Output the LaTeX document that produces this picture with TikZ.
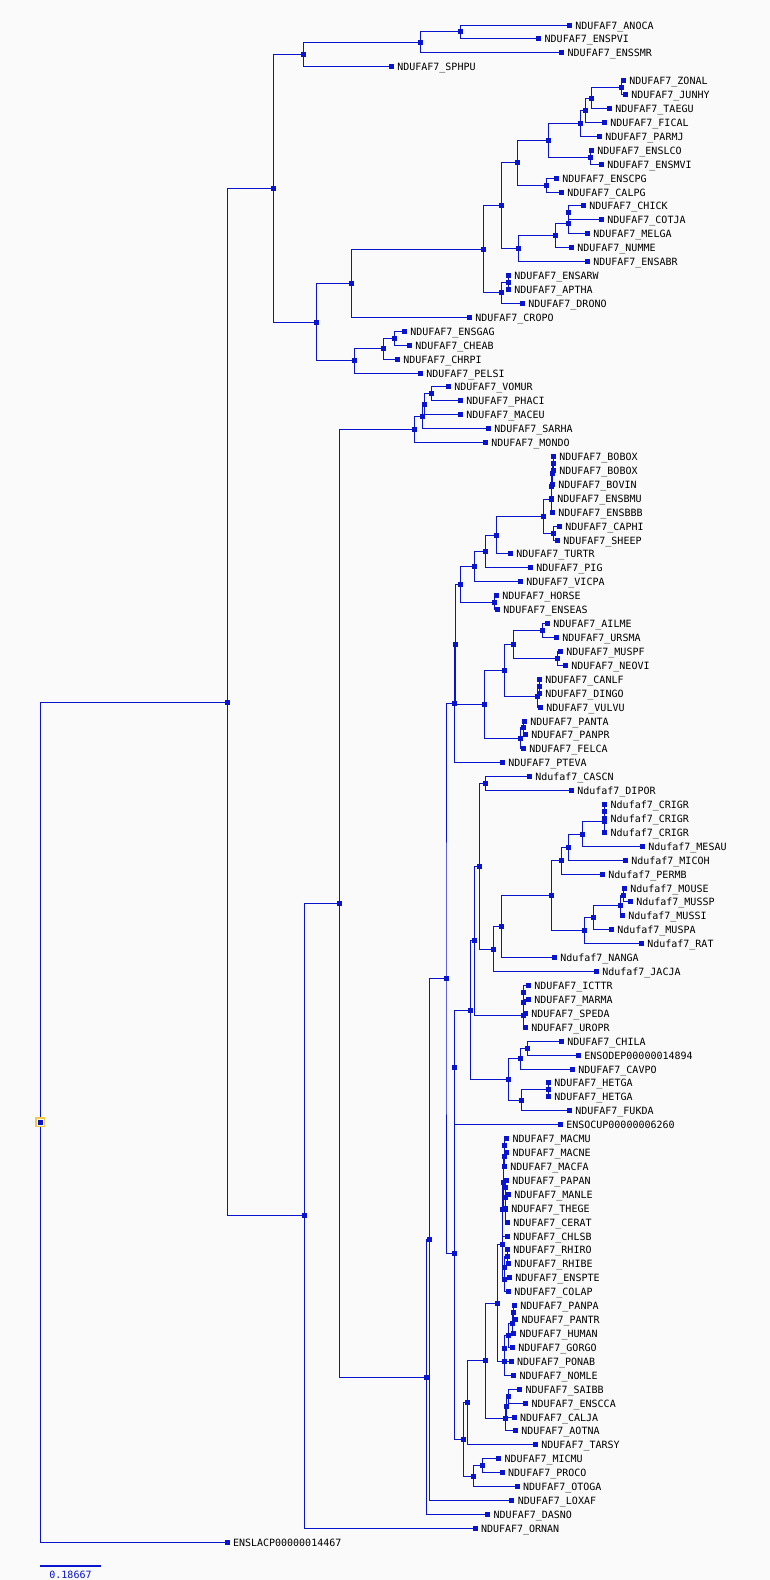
\documentclass[tikz,border=0pt]{standalone}
\usepackage{fontspec}
\newfontfamily\labfont{DejaVu Sans Mono}
\usetikzlibrary{calc}
\definecolor{treeblue}{RGB}{8,20,205}
\definecolor{bgc}{RGB}{250,250,250}
\definecolor{rootyel}{RGB}{242,202,72}
\def\pU{NDUFAF7\_}
\def\pL{Ndufaf7\_}
\tikzset{
  branch/.style={draw=treeblue, line width=1pt},
  nbox/.style={fill=treeblue, inner sep=0pt, minimum size=5pt, draw=none},
  lab/.style={font=\labfont\fontsize{10}{12}\selectfont, text=black, inner sep=0pt, anchor=base west},
}
\newcommand{\leaf}[4]{%
  \coordinate (#1) at (#3,{25+(#2-1)*13.92});
  \node[lab] (#1t) at ($(#1)+(5.8,4.0)$) {#4};
}
\newcommand{\inode}[4]{%
  \path let \p1=(#3), \p2=(#4) in coordinate (#1) at (#2pt,{0.5*\y1+0.5*\y2});
  \draw[branch] (#3) -| (#1) |- (#4);
}
\begin{document}
\begin{tikzpicture}[x=1pt,y=-1pt]
\fill[bgc] (0,0) rectangle (770,1580);
\useasboundingbox (0,0) rectangle (770,1580);
% leaves
\leaf{l1}{1}{569.3}{\pU ANOCA}
\leaf{l2}{2}{538.7}{\pU ENSPVI}
\leaf{l3}{3}{561.7}{\pU ENSSMR}
\leaf{l4}{4}{391.3}{\pU SPHPU}
\leaf{l5}{5}{623.3}{\pU ZONAL}
\leaf{l6}{6}{625.3}{\pU JUNHY}
\leaf{l7}{7}{609.3}{\pU TAEGU}
\leaf{l8}{8}{604.3}{\pU FICAL}
\leaf{l9}{9}{599.3}{\pU PARMJ}
\leaf{l10}{10}{591.3}{\pU ENSLCO}
\leaf{l11}{11}{601.3}{\pU ENSMVI}
\leaf{l12}{12}{556.3}{\pU ENSCPG}
\leaf{l13}{13}{561.3}{\pU CALPG}
\leaf{l14}{14}{583.3}{\pU CHICK}
\leaf{l15}{15}{601.3}{\pU COTJA}
\leaf{l16}{16}{587.3}{\pU MELGA}
\leaf{l17}{17}{571.3}{\pU NUMME}
\leaf{l18}{18}{587.3}{\pU ENSABR}
\leaf{l19}{19}{508.3}{\pU ENSARW}
\leaf{l20}{20}{508.3}{\pU APTHA}
\leaf{l21}{21}{522.3}{\pU DRONO}
\leaf{l22}{22}{469.3}{\pU CROPO}
\leaf{l23}{23}{404.3}{\pU ENSGAG}
\leaf{l24}{24}{409.3}{\pU CHEAB}
\leaf{l25}{25}{397.3}{\pU CHRPI}
\leaf{l26}{26}{420.3}{\pU PELSI}
\leaf{l27}{27}{448.3}{\pU VOMUR}
\leaf{l28}{28}{460.3}{\pU PHACI}
\leaf{l29}{29}{460.3}{\pU MACEU}
\leaf{l30}{30}{488.3}{\pU SARHA}
\leaf{l31}{31}{485.3}{\pU MONDO}
\leaf{l32}{32}{553.3}{\pU BOBOX}
\leaf{l33}{33}{553.3}{\pU BOBOX}
\leaf{l34}{34}{552.3}{\pU BOVIN}
\leaf{l35}{35}{551.3}{\pU ENSBMU}
\leaf{l36}{36}{552.3}{\pU ENSBBB}
\leaf{l37}{37}{559.3}{\pU CAPHI}
\leaf{l38}{38}{557.3}{\pU SHEEP}
\leaf{l39}{39}{510.3}{\pU TURTR}
\leaf{l40}{40}{530.3}{\pU PIG}
\leaf{l41}{41}{520.3}{\pU VICPA}
\leaf{l42}{42}{496.3}{\pU HORSE}
\leaf{l43}{43}{497.3}{\pU ENSEAS}
\leaf{l44}{44}{547.3}{\pU AILME}
\leaf{l45}{45}{556.3}{\pU URSMA}
\leaf{l46}{46}{560.3}{\pU MUSPF}
\leaf{l47}{47}{565.3}{\pU NEOVI}
\leaf{l48}{48}{539.3}{\pU CANLF}
\leaf{l49}{49}{539.3}{\pU DINGO}
\leaf{l50}{50}{540.3}{\pU VULVU}
\leaf{l51}{51}{524.3}{\pU PANTA}
\leaf{l52}{52}{525.3}{\pU PANPR}
\leaf{l53}{53}{523.3}{\pU FELCA}
\leaf{l54}{54}{502.3}{\pU PTEVA}
\leaf{l55}{55}{529.3}{\pL CASCN}
\leaf{l56}{56}{571.3}{\pL DIPOR}
\leaf{l57}{57}{604.7}{\pL CRIGR}
\leaf{l58}{58}{604.7}{\pL CRIGR}
\leaf{l59}{59}{604.7}{\pL CRIGR}
\leaf{l60}{60}{642.3}{\pL MESAU}
\leaf{l61}{61}{625.3}{\pL MICOH}
\leaf{l62}{62}{602.3}{\pL PERMB}
\leaf{l63}{63}{624.3}{\pL MOUSE}
\leaf{l64}{64}{630.3}{\pL MUSSP}
\leaf{l65}{65}{622.3}{\pL MUSSI}
\leaf{l66}{66}{611.3}{\pL MUSPA}
\leaf{l67}{67}{641.3}{\pL RAT}
\leaf{l68}{68}{554.3}{\pL NANGA}
\leaf{l69}{69}{596.3}{\pL JACJA}
\leaf{l70}{70}{528.3}{\pU ICTTR}
\leaf{l71}{71}{528.3}{\pU MARMA}
\leaf{l72}{72}{525.3}{\pU SPEDA}
\leaf{l73}{73}{525.3}{\pU UROPR}
\leaf{l74}{74}{561.3}{\pU CHILA}
\leaf{l75}{75}{578.3}{ENSODEP00000014894}
\leaf{l76}{76}{572.3}{\pU CAVPO}
\leaf{l77}{77}{548.3}{\pU HETGA}
\leaf{l78}{78}{548.3}{\pU HETGA}
\leaf{l79}{79}{569.3}{\pU FUKDA}
\leaf{l80}{80}{560.3}{ENSOCUP00000006260}
\leaf{l81}{81}{506.5}{\pU MACMU}
\leaf{l82}{82}{506.5}{\pU MACNE}
\leaf{l83}{83}{504.3}{\pU MACFA}
\leaf{l84}{84}{506.3}{\pU PAPAN}
\leaf{l85}{85}{508.3}{\pU MANLE}
\leaf{l86}{86}{505.3}{\pU THEGE}
\leaf{l87}{87}{507.3}{\pU CERAT}
\leaf{l88}{88}{507.3}{\pU CHLSB}
\leaf{l89}{89}{507.3}{\pU RHIRO}
\leaf{l90}{90}{508.3}{\pU RHIBE}
\leaf{l91}{91}{509.3}{\pU ENSPTE}
\leaf{l92}{92}{508.3}{\pU COLAP}
\leaf{l93}{93}{514.3}{\pU PANPA}
\leaf{l94}{94}{515.5}{\pU PANTR}
\leaf{l95}{95}{513.5}{\pU HUMAN}
\leaf{l96}{96}{512.3}{\pU GORGO}
\leaf{l97}{97}{511.0}{\pU PONAB}
\leaf{l98}{98}{513.5}{\pU NOMLE}
\leaf{l99}{99}{519.5}{\pU SAIBB}
\leaf{l100}{100}{525.5}{\pU ENSCCA}
\leaf{l101}{101}{514.0}{\pU CALJA}
\leaf{l102}{102}{515.3}{\pU AOTNA}
\leaf{l103}{103}{535.4}{\pU TARSY}
\leaf{l104}{104}{498.5}{\pU MICMU}
\leaf{l105}{105}{502.2}{\pU PROCO}
\leaf{l106}{106}{517.2}{\pU OTOGA}
\leaf{l107}{107}{511.8}{\pU LOXAF}
\leaf{l108}{108}{487.7}{\pU DASNO}
\leaf{l109}{109}{475.0}{\pU ORNAN}
\leaf{l110}{110}{227.0}{ENSLACP00000014467}
% internal nodes
\inode{n1}{460.3}{l1}{l2}
\inode{n2}{420.3}{n1}{l3}
\inode{n3}{303.3}{n2}{l4}
\inode{n4}{621.3}{l5}{l6}
\inode{n5}{591.3}{n4}{l7}
\inode{n6}{585.3}{n5}{l8}
\inode{n7}{580.3}{n6}{l9}
\inode{n8}{590.3}{l10}{l11}
\inode{n9}{548.3}{n7}{n8}
\inode{n10}{546.3}{l12}{l13}
\inode{n11}{517.3}{n9}{n10}
\inode{n12}{568.3}{l14}{l15}
\inode{n13}{568.3}{n12}{l16}
\inode{n14}{555.3}{n13}{l17}
\inode{n15}{518.3}{n14}{l18}
\inode{n16}{501.3}{n11}{n15}
\inode{n17}{508.3}{l19}{l20}
\inode{n18}{501.3}{n17}{l21}
\inode{n19}{483.3}{n16}{n18}
\inode{n20}{351.3}{n19}{l22}
\inode{n21}{394.3}{l23}{l24}
\inode{n22}{383.3}{n21}{l25}
\inode{n23}{354.3}{n22}{l26}
\inode{n24}{316.3}{n20}{n23}
\inode{n25}{273.3}{n3}{n24}
\inode{n26}{431.3}{l27}{l28}
\inode{n27}{424.3}{n26}{l29}
\inode{n28}{422.3}{n27}{l30}
\inode{n29}{414.3}{n28}{l31}
\inode{n30}{553.3}{l32}{l33}
\inode{n31}{552.3}{n30}{l34}
\inode{n32}{551.6}{n31}{l35}
\inode{n33}{551.3}{n32}{l36}
\inode{n34}{553.3}{l37}{l38}
\inode{n35}{543.3}{n33}{n34}
\inode{n36}{496.3}{n35}{l39}
\inode{n37}{485.3}{n36}{l40}
\inode{n38}{474.3}{n37}{l41}
\inode{n39}{494.3}{l42}{l43}
\inode{n40}{460.3}{n38}{n39}
\inode{n41}{542.3}{l44}{l45}
\inode{n42}{557.3}{l46}{l47}
\inode{n43}{513.3}{n41}{n42}
\inode{n44}{539.3}{l48}{l49}
\inode{n45}{537.3}{n44}{l50}
\inode{n46}{504.3}{n43}{n45}
\inode{n47}{523.3}{l51}{l52}
\inode{n48}{520.3}{n47}{l53}
\inode{n49}{484.3}{n46}{n48}
\inode{n50}{455.7}{n40}{n49}
\inode{n51}{454.3}{n50}{l54}
\inode{n52}{485.3}{l55}{l56}
\inode{n53}{604.7}{l57}{l58}
\inode{n54}{604.3}{n53}{l59}
\inode{n55}{582.3}{n54}{l60}
\inode{n56}{568.3}{n55}{l61}
\inode{n57}{561.3}{n56}{l62}
\inode{n58}{623.3}{l63}{l64}
\inode{n59}{620.3}{n58}{l65}
\inode{n60}{593.3}{n59}{l66}
\inode{n61}{584.3}{n60}{l67}
\inode{n62}{551.3}{n57}{n61}
\inode{n63}{501.3}{n62}{l68}
\inode{n64}{493.3}{n63}{l69}
\inode{n65}{479.3}{n52}{n64}
\inode{n66}{523.3}{l70}{l71}
\inode{n67}{523.3}{n66}{l72}
\inode{n68}{523.3}{n67}{l73}
\inode{n69}{474.3}{n65}{n68}
\inode{n70}{527.3}{l74}{l75}
\inode{n71}{520.3}{n70}{l76}
\inode{n72}{548.3}{l77}{l78}
\inode{n73}{521.3}{n72}{l79}
\inode{n74}{508.3}{n71}{n73}
\inode{n75}{470.3}{n69}{n74}
\inode{n76}{454.3}{n75}{l80}
\inode{n77}{504.3}{l81}{l82}
\inode{n78}{504.3}{n77}{l83}
\inode{n79}{505.8}{l84}{l85}
\inode{n80}{505.3}{n79}{l86}
\inode{n81}{505.3}{n80}{l87}
\inode{n82}{503.3}{n78}{n81}
\inode{n83}{502.3}{n82}{l88}
\inode{n84}{507.3}{l89}{l90}
\inode{n85}{504.3}{n84}{l91}
\inode{n86}{504.3}{n85}{l92}
\inode{n87}{502.3}{n83}{n86}
\inode{n88}{513.3}{l93}{l94}
\inode{n89}{512.3}{n88}{l95}
\inode{n90}{508.3}{n89}{l96}
\inode{n91}{504.3}{n90}{l97}
\inode{n92}{504.3}{n91}{l98}
\inode{n93}{497.3}{n87}{n92}
\inode{n94}{508.3}{l99}{l100}
\inode{n95}{506.3}{n94}{l101}
\inode{n96}{505.3}{n95}{l102}
\inode{n97}{485.3}{n93}{n96}
\inode{n98}{467.3}{n97}{l103}
\inode{n99}{482.5}{l104}{l105}
\inode{n100}{473.3}{n99}{l106}
\inode{n101}{463.3}{n98}{n100}
\inode{n102}{454.3}{n76}{n101}
\inode{n103}{446.0}{n51}{n102}
\inode{n104}{429.3}{n103}{l107}
\inode{n105}{426.3}{n104}{l108}
\inode{n106}{339.3}{n29}{n105}
\inode{n107}{304.3}{n106}{l109}
\inode{n108}{227.3}{n25}{n107}
\inode{root}{40.3}{n108}{l110}
% boxes
\foreach \i in {1,...,110} \node[nbox] (bl\i) at (l\i) {};
\foreach \i in {1,...,108} \node[nbox] (bn\i) at (n\i) {};
\node[draw=rootyel, line width=1.8pt, fill=bgc, inner sep=0pt, minimum size=8.5pt] (rootring) at (root) {};
\node[nbox] (broot) at (root) {};
% scale bar
\coordinate (sbl) at (39.8,1565.8);
\coordinate (sbr) at (101.2,1565.8);
\draw[treeblue, line width=2pt] (sbl) -- (sbr);
\node[lab, text=treeblue, anchor=base] (sbt) at (70.5,1578.2) {0.18667};
\end{tikzpicture}
\end{document}
